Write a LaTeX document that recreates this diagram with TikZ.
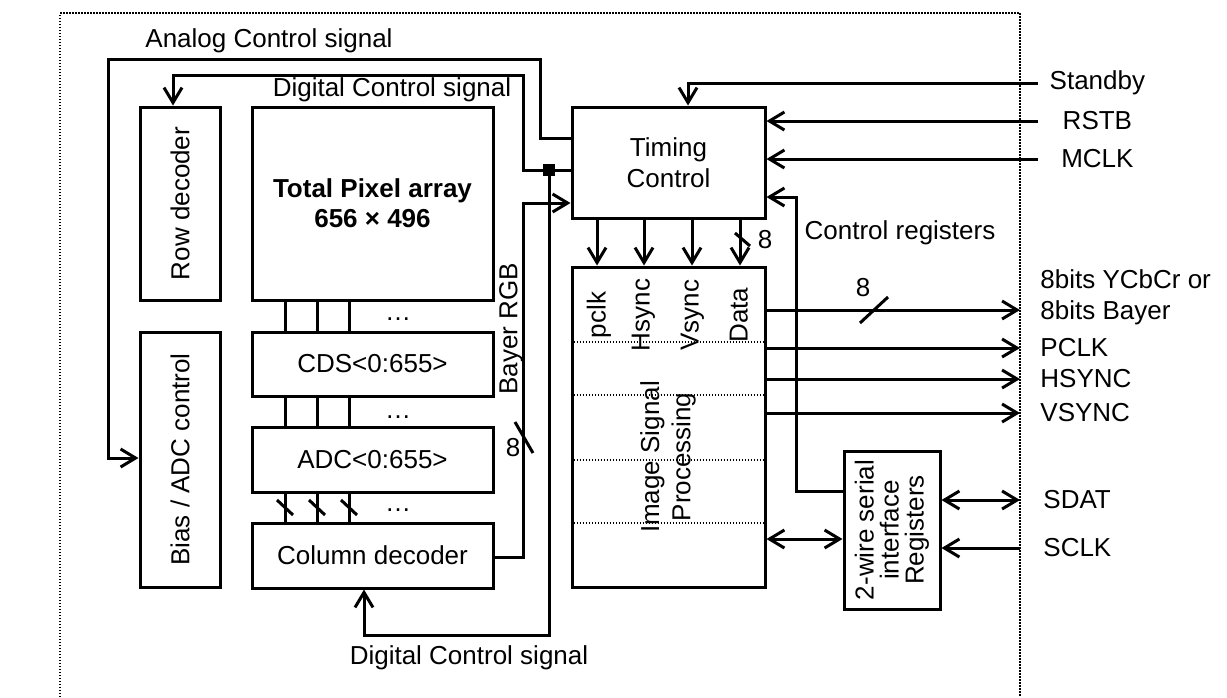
\documentclass[tikz,border=0pt]{standalone}
\usepackage{fontspec}
\setmainfont{Liberation Sans}
\usetikzlibrary{calc, positioning, fit, arrows.meta}

\begin{document}
\begin{tikzpicture}[
    x=0.5pt, y=-0.5pt,
    every node/.style={font=\fontsize{13}{15.6}\selectfont},
    box/.style={draw, line width=1.5pt, inner sep=0pt},
    wire/.style={line width=1.5pt},
    sig/.style={wire, -{Straight Barb[length=7.5pt, width=9pt]}},
    bisig/.style={wire, {Straight Barb[length=7.5pt, width=9pt]}-{Straight Barb[length=7.5pt, width=9pt]}},
    dotline/.style={line width=0.9pt, dash pattern=on 0.75pt off 0.75pt},
    vlabel/.style={rotate=90, align=center},
    isplbl/.style={rotate=90, text height=9.5pt, text depth=2.8pt},
    pinlabel/.style={anchor=west, inner sep=0pt, text width=59pt, align=center},
    outlabel/.style={anchor=west, inner xsep=10pt, align=left},
    junction/.style={fill, inner sep=0pt, minimum size=6pt}
  ]
  % Sheet and chip border
  \path[use as bounding box, fill=white] (0,0) rectangle (1227,697);
  \draw[dotline] (60,697) -- (60,13) -- (1020,13) -- (1020,697);

  % Blocks
  \node[box, fit={(140,107) (220,300)}] (rowdec) {};
  \node[box, fit={(252,107) (493,300)}] (pixarr) {};
  \node[box, fit={(140,332) (220,587)}] (bias) {};
  \node[box, fit={(252,332) (493,396)}] (cds) {};
  \node[box, fit={(252,427) (493,492)}] (adc) {};
  \node[box, fit={(252,523) (493,588)}] (coldec) {};
  \node[box, fit={(572,107) (765,218)}] (timing) {};
  \node[box, fit={(572,267) (765,587)}] (isp) {};
  \node[box, fit={(844,451) (940,609)}] (twowire) {};

  % Block texts
  \node[vlabel] (rowdectxt) at (rowdec.center) {Row decoder};
  \node[align=center, font=\fontsize{13}{15}\selectfont\bfseries] (pixtxt) at (pixarr.center) {Total Pixel array\\656 × 496};
  \node[vlabel] (biastxt) at (bias.center) {Bias / ADC control};
  \node (cdstxt) at (cds.center) {CDS<0:655>};
  \node (adctxt) at (adc.center) {ADC<0:655>};
  \node (coldectxt) at (coldec.center) {Column decoder};
  \node[align=center] (timingtxt) at (timing.center) {Timing\\Control};
  \node[vlabel] (isptxt) at (668,457) {Image Signal\\Processing};
  \node[vlabel, font=\fontsize{13}{12.5}\selectfont] (twowiretxt) at (twowire.center) {2-wire serial\\interface\\Registers};

  % ISP fields
  \foreach \x/\t [count=\i] in {599/pclk, 643/Hsync, 692/Vsync, 741/Data}
    \node[isplbl] (fld\i) at (\x,315) {\t};
  \foreach \y in {342,395,460,523}
    \draw[dotline] (isp.west |- 0,\y) -- (isp.east |- 0,\y);

  % Pins
  \node[pinlabel] (standby) at (1038,83) {Standby};
  \node[pinlabel] (rstb) at (1038,121) {RSTB};
  \node[pinlabel] (mclk) at (1038,159) {MCLK};
  \node[outlabel] (pixout) at (1020,297) {8bits YCbCr or\\8bits Bayer};
  \node[outlabel] (pclk) at (1020,348) {PCLK};
  \node[outlabel] (hsync) at (1020,379) {HSYNC};
  \node[outlabel] (vsync) at (1020,413) {VSYNC};
  \node[outlabel, inner xsep=11.5pt] (sdat) at (1020,500) {SDAT};
  \node[outlabel, inner xsep=11.5pt] (sclk) at (1020,548) {SCLK};

  % Signal names
  \node (analogtxt) at (269,41) {Analog Control signal};
  \node (digtoptxt) at (392,90) {Digital Control signal};
  \node (digbottxt) at (469,658) {Digital Control signal};
  \node[rotate=90] (bayertxt) at (511,329) {Bayer RGB};
  \node (ctrlregtxt) at (900,233) {Control registers};
  \node[junction] (jn) at (549,170) {};

  % Column links
  \foreach \x in {285,317,349} {
    \draw[wire] (pixarr.south -| \x,0) -- (cds.north -| \x,0);
    \draw[wire] (cds.south -| \x,0) -- (adc.north -| \x,0);
    \draw[wire] (adc.south -| \x,0) -- (coldec.north -| \x,0);
    \draw[wire] (\x-8,500) -- (\x+8,515);
  }
  \node[anchor=base] (dots1) at (398,320) {…};
  \node[anchor=base] (dots2) at (398,418) {…};
  \node[anchor=base] (dots3) at (398,511) {…};

  % Control signals
  \draw[sig] (timing.west |- 0,138) -- (540,138) -- (540,59) -- (108,59) -- (108,458) -- (bias.west |- 0,458);
  \draw[sig] (timing.west |- 0,170) -- (523,170) -- (523,75) -- (173,75) -- (rowdec.north -| 173,0);
  \draw[sig] (jn.center) -- (549,635) -- (364,635) -- (coldec.south -| 364,0);

  % Bayer RGB bus
  \draw[sig] (coldec.east |- 0,557) -- (523,557) -- (523,203) -- (timing.west |- 0,203);
  \draw[wire] (515,422) -- (533,453);
  \node (bus1) at (513,448) {8};

  % Timing to ISP
  \foreach \x in {597,644,692,740}
    \draw[sig] (timing.south -| \x,0) -- (isp.north -| \x,0);
  \draw[wire] (735,233) -- (750,246);
  \node (bus2) at (765,240) {8};

  % Inputs
  \draw[sig] (standby.west) -- (688,83) -- (timing.north -| 688,0);
  \draw[sig] (rstb.west) -- (timing.east |- rstb.west);
  \draw[sig] (mclk.west) -- (timing.east |- mclk.west);

  % Outputs
  \draw[sig] (isp.east |- 0,310) -- (pixout.west |- 0,310);
  \draw[wire] (860,323) -- (888,297);
  \node (bus3) at (863,288) {8};
  \draw[sig] (isp.east |- pclk.west) -- (pclk.west);
  \draw[sig] (isp.east |- hsync.west) -- (hsync.west);
  \draw[sig] (isp.east |- vsync.west) -- (vsync.west);

  % Serial interface
  \draw[bisig] (isp.east |- 0,539) -- (twowire.west |- 0,539);
  \draw[sig] (twowire.west |- 0,491) -- (796,491) -- (796,197) -- (timing.east |- 0,197);
  \draw[bisig] (twowire.east |- sdat.west) -- (sdat.west);
  \draw[sig] (sclk.west) -- (twowire.east |- sclk.west);
\end{tikzpicture}
\end{document}
